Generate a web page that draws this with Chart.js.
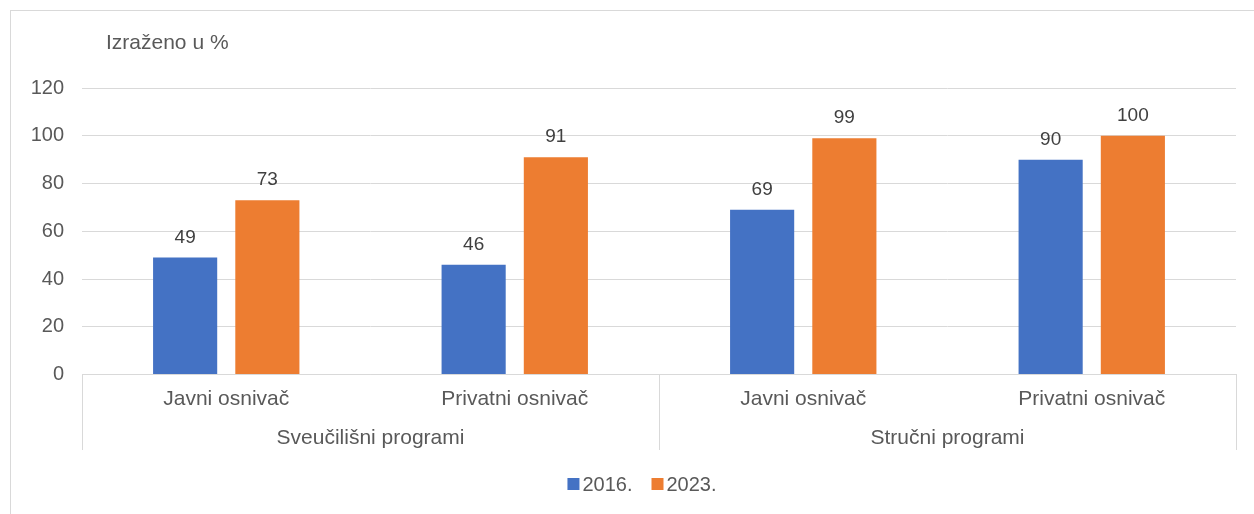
<!DOCTYPE html>
<html lang="hr">
<head>
    <meta charset="UTF-8">
    <title>Izraženo u %</title>
    <script src="https://cdn.jsdelivr.net/npm/chart.js"></script>
    <style>
        html, body { margin: 0; padding: 0; background: #fff; overflow: hidden; }
        .frame {
            position: absolute; left: 10px; top: 10px;
            width: 1300px; height: 560px;
            border: 1px solid #d9d9d9;
        }
        .wrap { position: absolute; left: 0; top: 0; width: 1243px; height: 503px; }
    </style>
</head>
<body>
    <div class="frame">
        <div class="wrap"><canvas id="chart"></canvas></div>
    </div>

    <script>
        // data
        const categories = ['Javni osnivač', 'Privatni osnivač', 'Javni osnivač', 'Privatni osnivač'];
        const groups = ['Sveučilišni programi', 'Stručni programi'];
        const years = ['2016.', '2023.'];
        const values2016 = [49, 46, 69, 90];
        const values2023 = [73, 91, 99, 100];
        const yTicks = [0, 20, 40, 60, 80, 100, 120];
        const unitLabel = 'Izraženo u %';

        const FONT = "'Liberation Sans', Arial, sans-serif";
        const TEXT = '#595959';
        const GRID = '#d9d9d9';

        // value labels above the bars
        const valueLabels = {
            id: 'valueLabels',
            afterDatasetsDraw(chart) {
                const ctx = chart.ctx;
                ctx.save();
                ctx.font = '19px ' + FONT;
                ctx.fillStyle = '#404040';
                ctx.textAlign = 'center';
                ctx.textBaseline = 'middle';
                chart.data.datasets.forEach((ds, i) => {
                    chart.getDatasetMeta(i).data.forEach((bar, j) => {
                        ctx.fillText(ds.data[j], bar.x, bar.y - 20);
                    });
                });
                ctx.restore();
            }
        };

        // unit text, group separators under the axis, and the legend (Excel-like spacing)
        const extras = {
            id: 'extras',
            afterDraw(chart) {
                const ctx = chart.ctx;
                const x = chart.scales.x;
                const x2 = chart.scales.x2;
                ctx.save();
                ctx.font = '21px ' + FONT;
                ctx.fillStyle = TEXT;
                ctx.textBaseline = 'middle';
                ctx.fillText(unitLabel, chart.chartArea.left + 24, 32);

                ctx.strokeStyle = GRID;
                ctx.lineWidth = 1;
                [-0.5, 1.5, 3.5].forEach(v => {
                    const px = Math.round(x.getPixelForValue(v)) + 0.5;
                    ctx.beginPath();
                    ctx.moveTo(px, x.top);
                    ctx.lineTo(px, x2.bottom - 2);
                    ctx.stroke();
                });

                // legend
                ctx.font = '20px ' + FONT;
                const box = 12, gapText = 3, gapItem = 19;
                const items = chart.data.datasets.map(ds => ({
                    text: ds.label, color: ds.backgroundColor, w: ctx.measureText(ds.label).width
                }));
                const total = items.reduce((s, it) => s + box + gapText + it.w, 0) + gapItem * (items.length - 1);
                let cx = 631 - total / 2;
                const cy = 473;
                items.forEach(it => {
                    ctx.fillStyle = it.color;
                    ctx.fillRect(cx, cy - box / 2, box, box);
                    cx += box + gapText;
                    ctx.fillStyle = TEXT;
                    ctx.fillText(it.text, cx, cy + 1);
                    cx += it.w + gapItem;
                });
                ctx.restore();
            }
        };

        new Chart(document.getElementById('chart'), {
            type: 'bar',
            data: {
                labels: categories,
                datasets: [
                    { label: years[0], data: values2016, backgroundColor: '#4472C4' },
                    { label: years[1], data: values2023, backgroundColor: '#ED7D31' }
                ]
            },
            options: {
                responsive: true,
                maintainAspectRatio: false,
                animation: false,
                categoryPercentage: 0.57,
                barPercentage: 0.78,
                layout: { padding: { top: 77, right: 18, left: 0, bottom: 62 } },
                plugins: {
                    tooltip: { enabled: false },
                    legend: { display: false }
                },
                scales: {
                    x: {
                        weight: 0,
                        grid: { display: false, drawTicks: false },
                        border: { display: true, color: GRID },
                        ticks: { color: TEXT, font: { family: FONT, size: 21 }, padding: 12, maxRotation: 0, autoSkip: false }
                    },
                    x2: {
                        type: 'category',
                        position: 'bottom',
                        weight: 1,
                        labels: groups,
                        offset: true,
                        grid: { display: false, drawTicks: false },
                        border: { display: false },
                        ticks: { color: TEXT, font: { family: FONT, size: 21 }, padding: 1.5, maxRotation: 0 }
                    },
                    y: {
                        min: 0,
                        max: 120,
                        afterBuildTicks(scale) {
                            scale.ticks = yTicks.map(v => ({ value: v }));
                        },
                        afterFit(scale) { scale.width = 71; },
                        grid: { color: GRID, drawTicks: false },
                        border: { display: false },
                        ticks: { color: TEXT, font: { family: FONT, size: 20 }, padding: 18 }
                    }
                }
            },
            plugins: [valueLabels, extras]
        });
    </script>
</body>
</html>
